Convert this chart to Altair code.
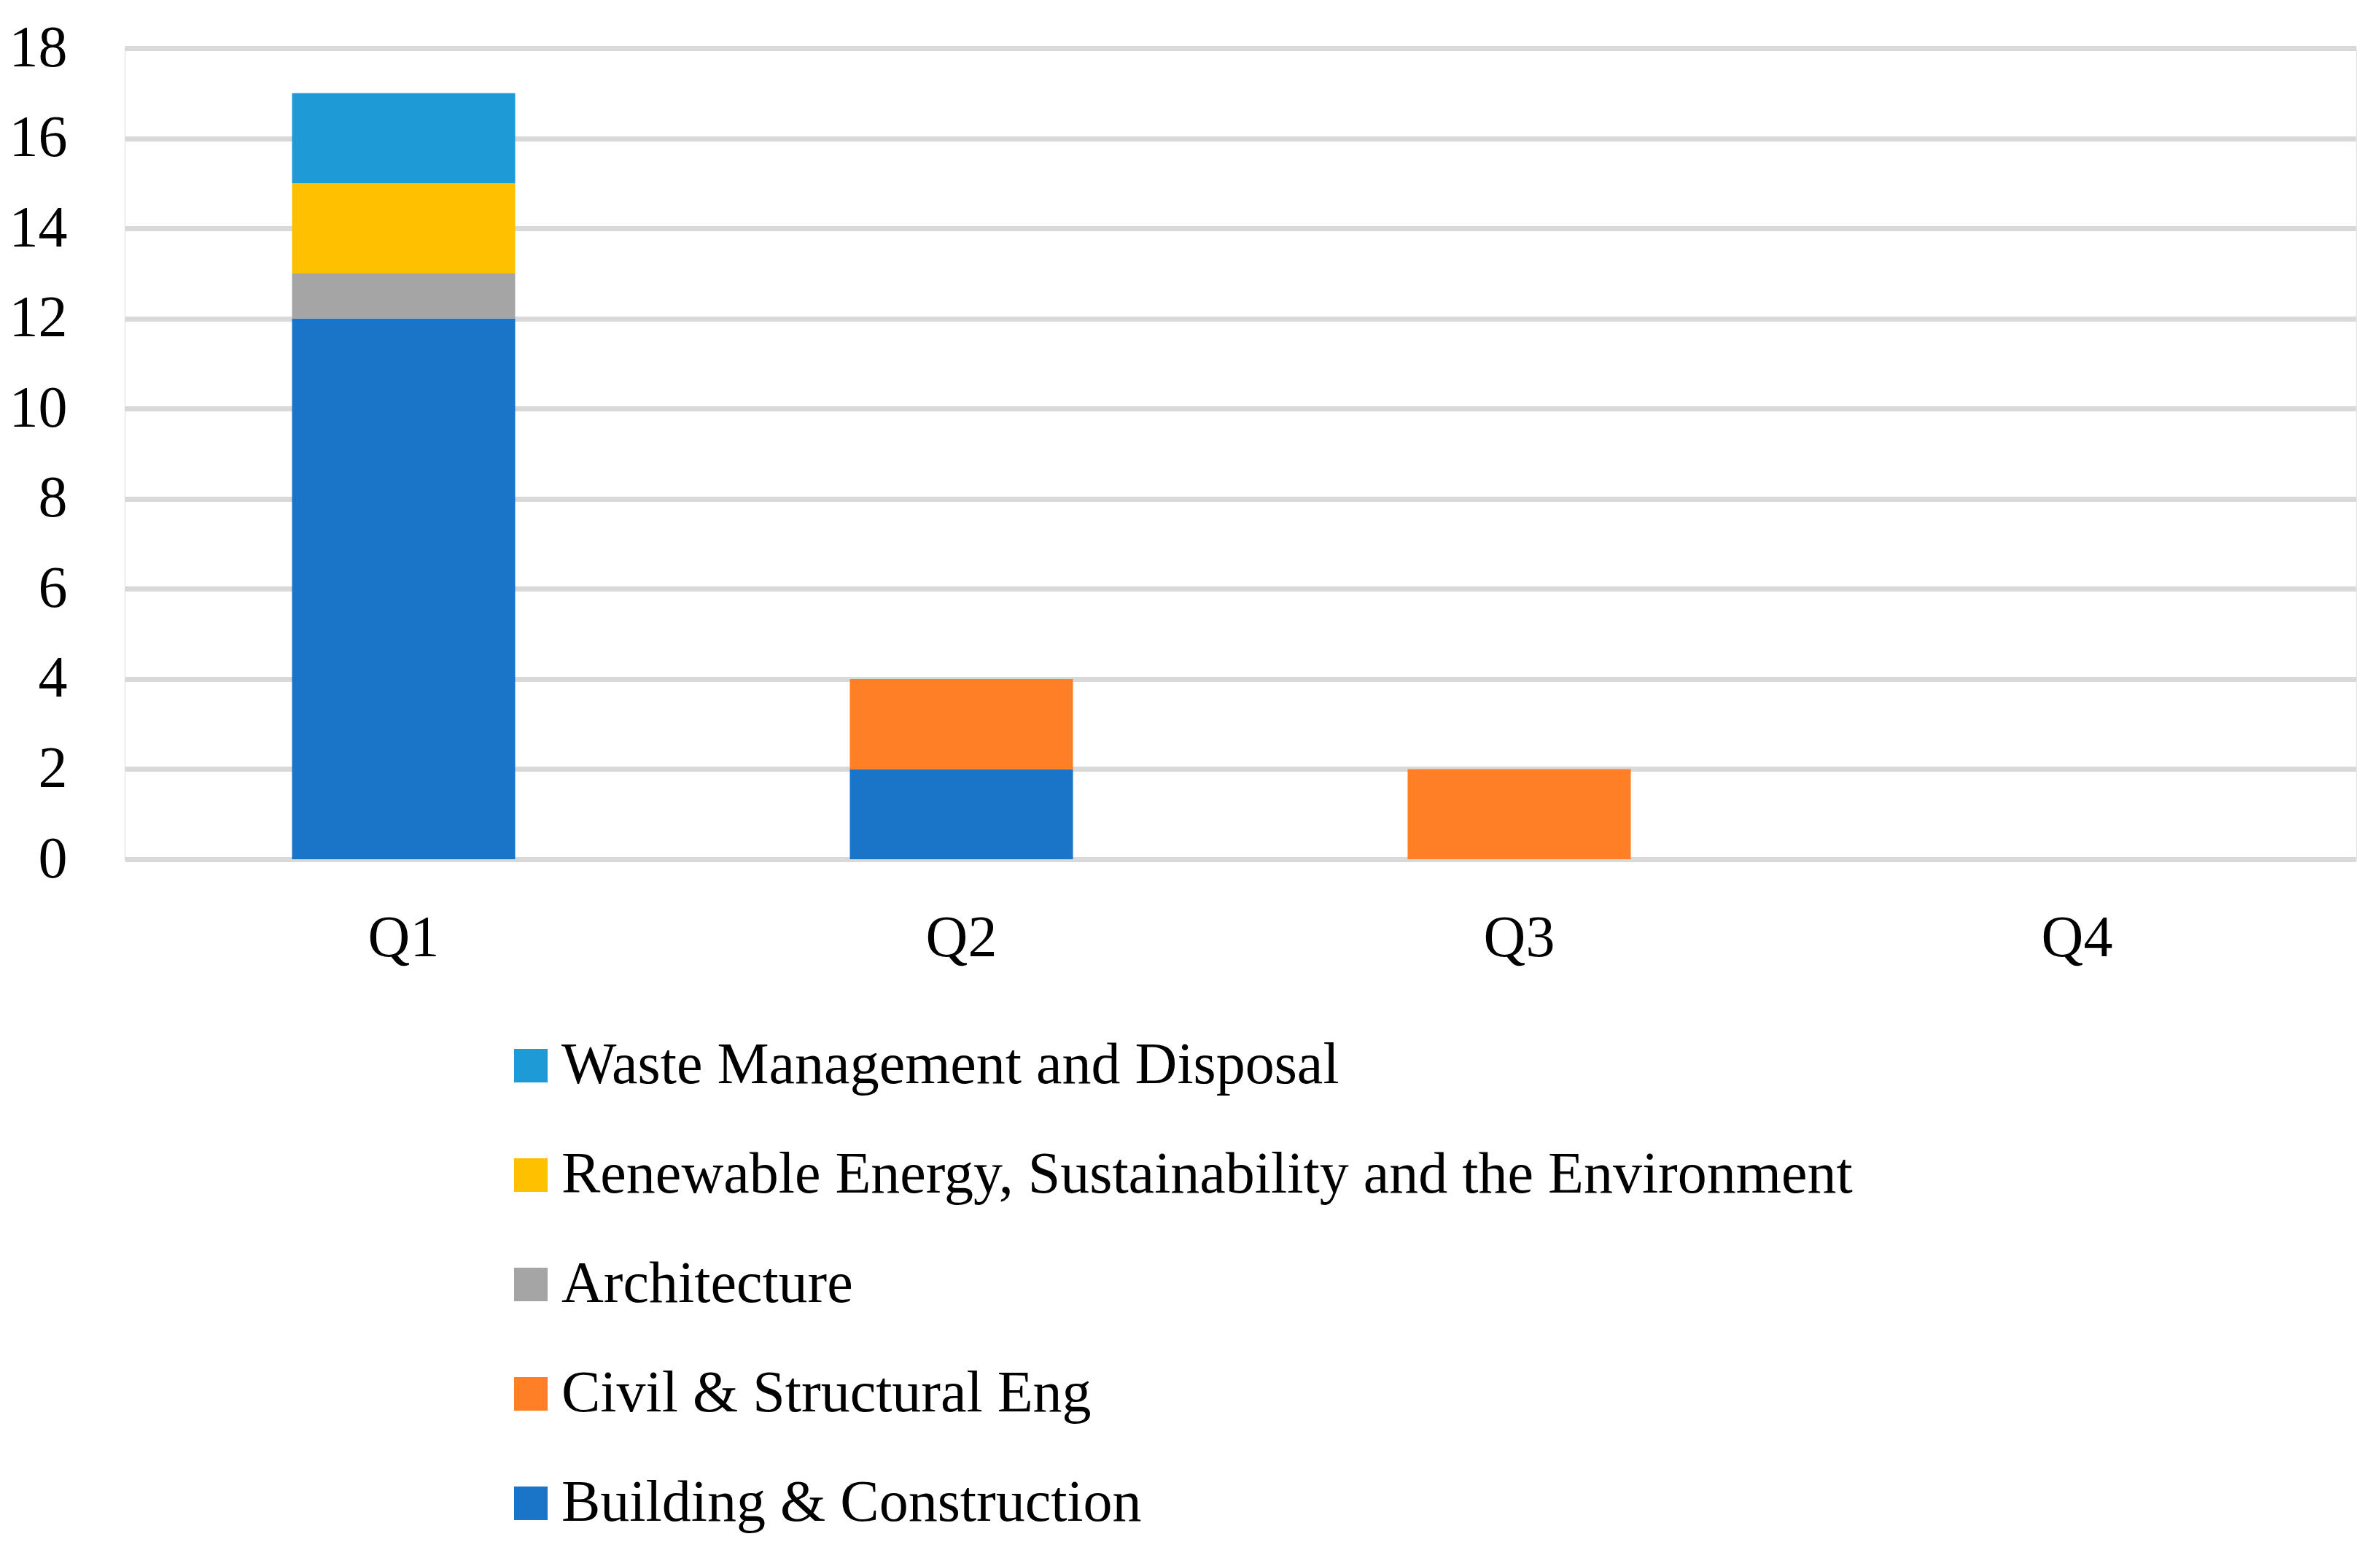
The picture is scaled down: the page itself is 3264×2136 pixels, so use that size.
import altair as alt
import pandas as pd

quarters = ["Q1", "Q2", "Q3", "Q4"]
categories = [
    "Waste Management and Disposal",
    "Renewable Energy, Sustainability and the Environment",
    "Architecture",
    "Civil & Structural Eng",
    "Building & Construction",
]
colors = ["#1E9BD7", "#FFC000", "#A5A5A5", "#FF7F27", "#1A75C9"]
# stacking order: bottom first
stack_rank = {
    "Building & Construction": 0,
    "Civil & Structural Eng": 1,
    "Architecture": 2,
    "Renewable Energy, Sustainability and the Environment": 3,
    "Waste Management and Disposal": 4,
}

building = [12, 2, 0, 0]
civil = [0, 2, 2, 0]
architecture = [1, 0, 0, 0]
renewable = [2, 0, 0, 0]
waste = [2, 0, 0, 0]

series = {
    "Building & Construction": building,
    "Civil & Structural Eng": civil,
    "Architecture": architecture,
    "Renewable Energy, Sustainability and the Environment": renewable,
    "Waste Management and Disposal": waste,
}

rows = []
for cat, vals in series.items():
    for q, v in zip(quarters, vals):
        rows.append({"Quarter": q, "Category": cat, "Value": v, "rank": stack_rank[cat]})
df = pd.DataFrame(rows)

FONT = "Liberation Serif"
FS = 80

chart = alt.Chart(df).mark_bar().encode(
    x=alt.X(
        "Quarter:N",
        sort=quarters,
        scale=alt.Scale(domain=quarters, paddingInner=0.6, paddingOuter=0.3),
        axis=alt.Axis(
            title=None, labelAngle=0, domain=False, ticks=False,
            labelFont=FONT, labelFontSize=FS, labelColor="#000000",
            labelPadding=69, grid=False,
        ),
    ),
    y=alt.Y(
        "sum(Value):Q",
        scale=alt.Scale(domain=[0, 18], nice=False),
        axis=alt.Axis(
            title=None, values=list(range(0, 19, 2)), domain=False, ticks=False,
            labelFont=FONT, labelFontSize=FS, labelColor="#000000",
            labelPadding=79, gridColor="#D9D9D9", gridWidth=7,
        ),
    ),
    color=alt.Color(
        "Category:N",
        scale=alt.Scale(domain=categories, range=colors),
        legend=alt.Legend(
            title=None, orient="none", direction="vertical",
            legendX=517, legendY=1355,
            symbolType="square", symbolSize=2116, symbolStrokeWidth=0,
            labelFont=FONT, labelFontSize=FS, labelColor="#000000",
            labelOffset=2, rowPadding=70, labelLimit=3000, padding=0,
        ),
    ),
    order=alt.Order("rank:Q", sort="ascending"),
).properties(
    width=3060,
    height=1112,
    autosize=alt.AutoSizeParams(type="none"),
    padding={"left": 163, "top": 58, "right": 25, "bottom": 950},
).configure_view(stroke=None).configure(background="white")

chart.save("out.html", embed_options={"renderer": "svg", "actions": False})
